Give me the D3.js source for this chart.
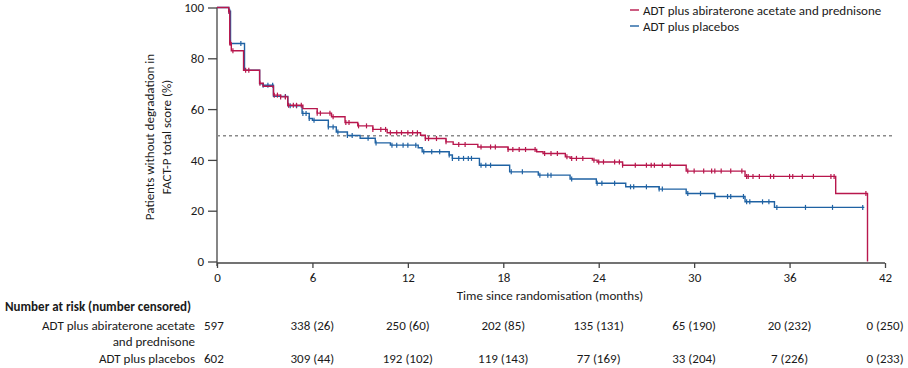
<!DOCTYPE html>
<html>
<head>
    <meta charset="UTF-8" />
    <title>FACT-P degradation</title>
    <script src="https://d3js.org/d3.v7.min.js"></script>
</head>
<style type="text/css">
body {
    margin: 0;
    background-color: #fff;
    font-family: Carlito, Lato, "Open Sans", sans-serif;
}
svg text {
    fill: #1a1a1a;
}
.axis path, .axis line {
    stroke: #444;
    stroke-width: 1.3px;
}
</style>
<body>
<svg id="chart" width="908" height="368"></svg>

<script type="text/javascript">
var monthTicks = [0, 6, 12, 18, 24, 30, 36, 42];
var pctTicks = [0, 20, 40, 60, 80, 100];
var seriesNames = ["ADT plus abiraterone acetate and prednisone", "ADT plus placebos"];

// step points: [month, % without degradation]
var abiSteps = [[0, 100], [0.74, 98.5], [0.8, 86], [0.9, 83], [1.67, 75.3], [2.68, 70.2], [2.9, 69], [3.55, 65.5],
    [4.0, 64.8], [4.45, 61.5], [5.4, 60.2], [6.3, 58.4], [7.2, 57], [8.05, 54.7], [8.85, 53.4], [9.8, 52],
    [10.7, 50.7], [12.8, 49.7], [13.1, 48.4], [14.4, 47.1], [14.85, 46.1], [16.4, 45.1], [18.3, 44.1],
    [20.1, 43.2], [20.5, 42.5], [21.9, 41.2], [22.2, 40.6], [23.6, 39.9], [23.9, 39.2], [25.5, 37.9],
    [29.5, 35.6], [33.2, 33.5], [38.9, 26.8], [40.9, 0]];
var placeboSteps = [[0, 100], [0.74, 98.5], [0.85, 85.8], [1.73, 75.3], [2.68, 70], [2.9, 69.4], [3.55, 65],
    [4.45, 61.3], [5.35, 58.3], [5.8, 56.3], [6.0, 55.6], [7.0, 53], [7.5, 51], [8.2, 49.6], [9.0, 48.5],
    [9.95, 46.7], [10.9, 45.8], [12.65, 44.8], [12.9, 43.2], [14.6, 41.9], [14.8, 40.6], [16.5, 37.9],
    [18.4, 35.3], [20.2, 34], [22.2, 32.5], [23.85, 30.8], [25.7, 29.4], [27.8, 28.5], [29.5, 26.8],
    [31.3, 25.6], [33.2, 23.5], [35.05, 21.3], [40.7, 21.3]];

// censoring times (months)
var abiCensored = [0.75, 0.8, 0.85, 1.0, 1.8, 2.0, 2.7, 3.6, 3.8, 4.0, 4.3, 4.5, 4.8, 5.0, 5.3, 6.3, 6.5, 7.1,
    7.3, 8.1, 8.3, 8.9, 9.4, 9.8, 10.3, 10.6, 10.9, 11.3, 11.6, 12.0, 12.3, 12.6, 13.1, 13.3, 13.8, 14.4, 15.2,
    15.6, 16.6, 17.2, 17.5, 18.3, 18.6, 19.0, 19.4, 20.0, 20.6, 21.0, 21.4, 22.0, 22.3, 22.6, 23.0, 23.7, 24.0,
    24.3, 25.0, 25.3, 25.5, 26.3, 27.0, 27.3, 27.5, 28.0, 28.5, 29.6, 30.0, 30.6, 31.1, 31.3, 31.7, 32.3, 33.0,
    33.3, 33.4, 33.7, 34.1, 34.8, 35.0, 36.0, 36.2, 36.8, 37.5, 38.6, 38.8, 40.8];
var placeboCensored = [0.75, 0.8, 1.5, 2.9, 3.2, 3.5, 4.3, 4.6, 5.0, 5.4, 5.6, 5.8, 6.1, 7.0, 7.3, 7.6, 8.2,
    8.5, 9.5, 10.0, 11.0, 11.3, 11.7, 12.0, 12.5, 13.0, 13.5, 14.0, 14.6, 14.8, 15.2, 15.5, 15.8, 16.0, 16.6,
    16.9, 17.2, 18.5, 19.2, 20.3, 20.8, 21.0, 22.3, 23.9, 24.2, 25.0, 26.0, 26.2, 27.0, 27.8, 28.0, 29.6, 30.4,
    31.3, 32.1, 32.3, 33.1, 33.3, 33.5, 34.3, 34.7, 35.2, 37.0, 38.7, 40.6];

var medianLine = 49.5;

var riskTitle = "Number at risk (number censored)";
var riskLabels = [["ADT plus abiraterone acetate", "and prednisone"], ["ADT plus placebos"]];
var abiAtRisk = ["597", "338 (26)", "250 (60)", "202 (85)", "135 (131)", "65 (190)", "20 (232)", "0 (250)"];
var placeboAtRisk = ["602", "309 (44)", "192 (102)", "119 (143)", "77 (169)", "33 (204)", "7 (226)", "0 (233)"];

var colors = ["#b8174d", "#1f62a3"];

var svg = d3.select("#chart");

var x = d3.scaleLinear().domain([0, 42]).range([217, 885]);
var y = d3.scaleLinear().domain([0, 100]).range([261.5, 7.5]);

// axes
svg.append("g").attr("class", "axis")
    .attr("transform", "translate(0,263)")
    .call(d3.axisBottom(x).tickValues(monthTicks).tickSize(5).tickPadding(5))
    .call(function(g) {
        g.select(".domain").attr("d", "M217,0H885");
        g.selectAll("text").attr("font-size", 13).attr("font-family", "Carlito, Lato, sans-serif");
    });

svg.append("g").attr("class", "axis")
    .attr("transform", "translate(217,0)")
    .call(d3.axisLeft(y).tickValues(pctTicks).tickSize(9).tickPadding(4))
    .call(function(g) {
        g.select(".domain").attr("d", "M0,7.5V266");
        g.selectAll("text").attr("font-size", 13).attr("font-family", "Carlito, Lato, sans-serif");
    });

svg.append("text")
    .attr("x", 550).attr("y", 300)
    .attr("text-anchor", "middle").attr("font-size", 13)
    .text("Time since randomisation (months)");

var yTitle = svg.append("text")
    .attr("transform", "translate(154,137) rotate(-90)")
    .attr("text-anchor", "middle").attr("font-size", 13);
yTitle.append("tspan").attr("x", 0).attr("dy", 0).text("Patients without degradation in");
yTitle.append("tspan").attr("x", 0).attr("dy", 17).text("FACT-P total score (%)");

// dashed reference line
svg.append("line")
    .attr("x1", x(0)).attr("x2", 895)
    .attr("y1", y(medianLine)).attr("y2", y(medianLine))
    .attr("stroke", "#8a8a8a").attr("stroke-width", 1.3)
    .attr("stroke-dasharray", "3,3");

var line = d3.line()
    .x(function(d) { return x(d[0]); })
    .y(function(d) { return y(d[1]); })
    .curve(d3.curveStepAfter);

function valueAt(steps, t) {
    var v = steps[0][1];
    for (var i = 0; i < steps.length; i++) {
        if (steps[i][0] <= t) v = steps[i][1];
    }
    return v;
}

var series = [
    {steps: placeboSteps, censored: placeboCensored, color: colors[1]},
    {steps: abiSteps, censored: abiCensored, color: colors[0]}
];

series.forEach(function(s) {
    svg.append("path")
        .datum(s.steps)
        .attr("fill", "none")
        .attr("stroke", s.color)
        .attr("stroke-width", 1.4)
        .attr("d", line);

    svg.append("g").selectAll("line").data(s.censored)
        .enter().append("line")
        .attr("x1", function(d) { return x(d); })
        .attr("x2", function(d) { return x(d); })
        .attr("y1", function(d) { return y(valueAt(s.steps, d)) - 2.5; })
        .attr("y2", function(d) { return y(valueAt(s.steps, d)) + 2.5; })
        .attr("stroke", s.color)
        .attr("stroke-width", 1.2);
});

// legend
var legend = svg.append("g").selectAll("g").data(seriesNames)
    .enter().append("g")
    .attr("transform", function(d, i) { return "translate(630," + (10 + i * 16) + ")"; });
legend.append("line")
    .attr("x1", 0).attr("x2", 9).attr("y1", 0).attr("y2", 0)
    .attr("stroke", function(d, i) { return colors[i]; })
    .attr("stroke-width", 1.4);
legend.append("text")
    .attr("x", 13).attr("y", 4.5)
    .attr("font-size", 13)
    .text(function(d) { return d; });

// number at risk table
svg.append("text")
    .attr("x", 5).attr("y", 311)
    .attr("font-size", 13).attr("font-weight", "bold")
    .text(riskTitle);

svg.append("text").attr("x", 195).attr("y", 330).attr("text-anchor", "end").attr("font-size", 13).text(riskLabels[0][0]);
svg.append("text").attr("x", 195).attr("y", 346).attr("text-anchor", "end").attr("font-size", 13).text(riskLabels[0][1]);
svg.append("text").attr("x", 195).attr("y", 363).attr("text-anchor", "end").attr("font-size", 13).text(riskLabels[1][0]);

[abiAtRisk, placeboAtRisk].forEach(function(row, r) {
    svg.append("g").selectAll("text").data(row)
        .enter().append("text")
        .attr("x", function(d, i) { return i == 0 ? 204 : x(monthTicks[i]); })
        .attr("y", r == 0 ? 330 : 363)
        .attr("text-anchor", function(d, i) { return i == 0 ? "start" : "middle"; })
        .attr("font-size", 13)
        .text(function(d) { return d; });
});
</script>
</body>
</html>
